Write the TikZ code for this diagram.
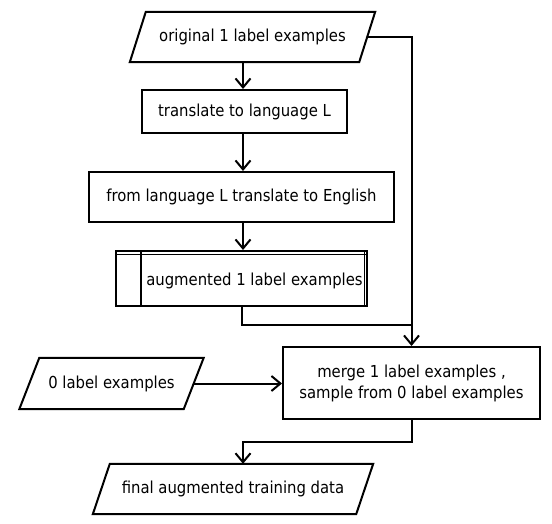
\documentclass[tikz,border=0pt]{standalone}
\usepackage{fontspec}
\setmainfont{DejaVu Sans Condensed}
\usetikzlibrary{arrows.meta,calc}
\tikzset{
  lbl/.style={font=\fontsize{16.5}{21}\selectfont, text=black, align=center},
  procbox/.style={lbl, draw, line width=2pt, rectangle, inner sep=0pt},
  iobox/.style={lbl, rectangle, draw=none, inner sep=0pt},
  conn/.style={line width=2pt},
  arr/.style={conn, -{Straight Barb[length=9pt,width=15pt,line width=2pt]}},
  paraline/.style={line width=2pt, line join=miter},
}
\newcommand\drawParaBox[2]{%
  \draw[paraline] ($(#1.south west)+(-#2,0)$) -- ($(#1.south east)+(-#2,0)$)
    -- ($(#1.north east)+(#2,0)$) -- ($(#1.north west)+(#2,0)$) -- cycle;}
\begin{document}
\begin{tikzpicture}[x=1pt,y=-1pt]
\fill[white] (0,0) rectangle (552,524);
\useasboundingbox (0,0) rectangle (552,524);
\coordinate (colx) at (243,0);
\coordinate (jrow) at (0,325);
\coordinate (brow) at (0,442);

\node[iobox, minimum width=229pt, minimum height=50pt] (orig) at (252.5,37) {original 1 label examples};
\drawParaBox{orig}{8}
\node[procbox, minimum width=205pt, minimum height=43pt] (trans) at (244.5,111.5) {translate to language L};
\node[procbox, minimum width=305pt, minimum height=50pt] (back) at (241.5,197) {from language L translate to English};
\node[procbox, minimum width=251pt, minimum height=55pt] (aug) at (241.5,278.5) {};
\node[lbl] (augtext) at (254.5,281) {augmented 1 label examples};
\draw[line width=1pt] ($(aug.north west)+(0,4.5)$) -- ($(aug.north east)+(0,4.5)$);
\draw[line width=1pt] ($(aug.north east)+(-3.5,0)$) -- ($(aug.south east)+(-3.5,0)$);
\draw[line width=2pt] ($(aug.north west)+(26,0)$) -- ($(aug.south west)+(26,0)$);

\node[procbox, minimum width=257pt, minimum height=72pt] (merge) at (411.5,383) {merge 1 label examples ,\\sample from 0 label examples};
\node[iobox, minimum width=164pt, minimum height=51pt] (zero) at (111.5,383.5) {0 label examples};
\drawParaBox{zero}{10}
\node[iobox, minimum width=263pt, minimum height=50pt] (final) at (233,489) {final augmented training data};
\drawParaBox{final}{8.5}

\draw[arr] (orig.south -| colx) -- (trans.north -| colx);
\draw[arr] (trans.south -| colx) -- (back.north -| colx);
\draw[arr] (back.south -| colx) -- (aug.north -| colx);
\draw[arr] (orig.east) -| (merge.north);
\draw[conn] (aug.south) |- (merge.north |- jrow);
\draw[arr] (zero.east) -- (merge.west |- zero.east);
\draw[arr] (merge.south) |- (colx |- brow) -- (colx |- final.north);
\end{tikzpicture}
\end{document}
